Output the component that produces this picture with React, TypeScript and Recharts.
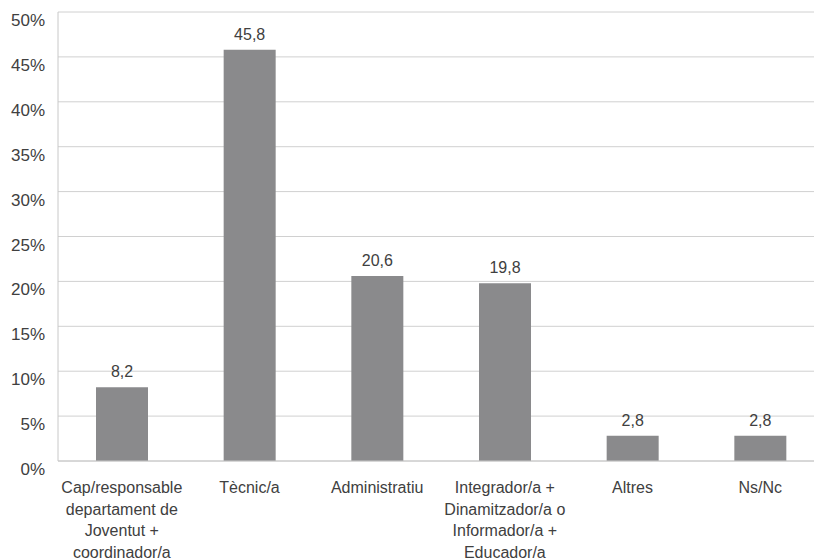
import React from 'react';
import { BarChart, Bar, XAxis, YAxis, CartesianGrid, LabelList } from 'recharts';

const categories = [
  'Cap/responsable departament de Joventut + coordinador/a',
  'Tècnic/a',
  'Administratiu',
  'Integrador/a + Dinamitzador/a o Informador/a + Educador/a',
  'Altres',
  'Ns/Nc',
];
const tickLines = [
  ['Cap/responsable', 'departament de', 'Joventut +', 'coordinador/a'],
  ['Tècnic/a'],
  ['Administratiu'],
  ['Integrador/a +', 'Dinamitzador/a o', 'Informador/a +', 'Educador/a'],
  ['Altres'],
  ['Ns/Nc'],
];
const values = [8.2, 45.8, 20.6, 19.8, 2.8, 2.8];
const yTicks = [0, 5, 10, 15, 20, 25, 30, 35, 40, 45, 50];

const TEXT = '#404040';
const FONT = '"Liberation Sans", Arial, sans-serif';

const chartData = categories.map((name, i) => ({ name, value: values[i] }));

const CategoryTick = (props: any) => {
  const { x, y, index } = props;
  const lines = tickLines[index] || [];
  return (
    <g transform={`translate(${x},${y})`}>
      {lines.map((line, i) => (
        <text
          key={i}
          x={0}
          y={24 + i * 21.5}
          textAnchor="middle"
          fill={TEXT}
          fontSize={16}
          fontFamily={FONT}
        >
          {line}
        </text>
      ))}
    </g>
  );
};

const PercentTick = (props: any) => {
  const { x, y, payload } = props;
  return (
    <text x={x} y={y + 14} textAnchor="end" fill={TEXT} fontSize={17} fontFamily={FONT}>
      {payload.value}%
    </text>
  );
};

export default function App() {
  return (
    <div style={{ position: 'absolute', top: 0, left: 0, width: 814, height: 560, overflow: 'hidden', background: '#fff' }}>
      <BarChart
        width={824}
        height={560}
        data={chartData}
        margin={{ top: 12, right: 0, left: 0, bottom: 0 }}
        barSize={52}
      >
        <CartesianGrid vertical={false} stroke="#d0d0d0" />
        <XAxis
          dataKey="name"
          interval={0}
          height={99}
          tickLine={false}
          axisLine={{ stroke: '#c8c8c8' }}
          tick={<CategoryTick />}
        />
        <YAxis
          domain={[0, 50]}
          ticks={yTicks}
          width={58}
          tickLine={false}
          axisLine={{ stroke: '#c8c8c8' }}
          tickMargin={7}
          tick={<PercentTick />}
        />
        <Bar dataKey="value" fill="#8a8a8c" isAnimationActive={false}>
          <LabelList
            dataKey="value"
            position="top"
            offset={10}
            fill={TEXT}
            fontSize={16}
            fontFamily={FONT}
            formatter={(v: any) => String(v).replace('.', ',')}
          />
        </Bar>
      </BarChart>
    </div>
  );
}
